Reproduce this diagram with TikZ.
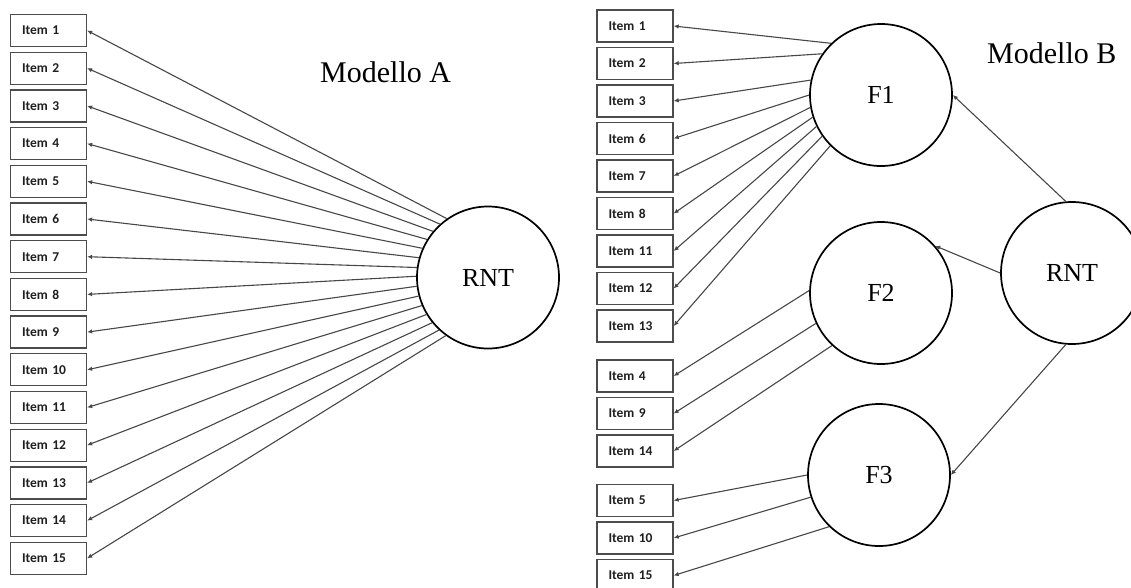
\documentclass[tikz,border=0pt]{standalone}
\usepackage{fontspec}
\setmainfont{Liberation Serif}
\newfontfamily\itemfont{Carlito}
\usetikzlibrary{arrows.meta}
\begin{document}
\begin{tikzpicture}[x=1pt,y=-1pt,
  itembox/.style={draw=black!70,line width=1.3pt,fill=white,minimum width=76pt,minimum height=32pt,inner sep=0pt,
     text width=53pt,align=left,font=\itemfont\bfseries\fontsize{13.5}{15}\selectfont,text=black!88},
  factor/.style={circle,draw=black,line width=1.7pt,minimum size=142pt,inner sep=0pt,fill=white,font=\fontsize{26}{28}\selectfont},
  conn/.style={draw=black!72,line width=1.1pt,-{Latex[length=5pt,width=4.5pt]}},
  title/.style={font=\fontsize{30}{32}\selectfont,anchor=base west,inner sep=0pt}]
\useasboundingbox (0,0) rectangle (1131,587);
% ---------- Modello A ----------
\node[title] (ta) at (320,82) {Modello A};
\node[factor] (rnta) at (488,277.5) {RNT};
\foreach \i in {1,...,15}{
  \node[itembox] (a\i) at (48.5,{30.5+37.7*(\i-1)}) {Item \i};
}
\foreach \i in {1,...,15}{
  \pgfmathsetmacro\ang{125+110/14*(\i-1)}
  \draw[conn] (rnta.\ang) -- (a\i.east);
}
% ---------- Modello B ----------
\node[title] (tb) at (987,63) {Modello B};
\node[factor] (f1) at (881,95) {F1};
\node[factor] (f2) at (881,293) {F2};
\node[factor] (f3) at (879,475) {F3};
\node[factor] (rntb) at (1072,273) {RNT};
\foreach \n/\y in {1/26,2/63.5,3/101,6/138.5,7/176,8/213.5,11/251,12/288.5,13/326,4/376,9/413.5,14/451,5/500.5,10/538,15/575.5}{
  \node[itembox] (b\n) at (635,\y) {Item \n};
}
\foreach \n/\a in {1/134,2/145,3/168,6/180,7/190,8/198,11/206,12/215,13/225}{
  \draw[conn] (f1.\a) -- (b\n.east);
}
\foreach \n/\a in {4/178,9/205,14/227}{
  \draw[conn] (f2.\a) -- (b\n.east);
}
\foreach \n/\a in {5/180,10/198,15/226}{
  \draw[conn] (f3.\a) -- (b\n.east);
}
\draw[conn] (rntb.95) -- (f1.east);
\draw[conn] (rntb.180) -- (f2.41);
\draw[conn] (rntb.265) -- (f3.east);
\end{tikzpicture}
\end{document}
